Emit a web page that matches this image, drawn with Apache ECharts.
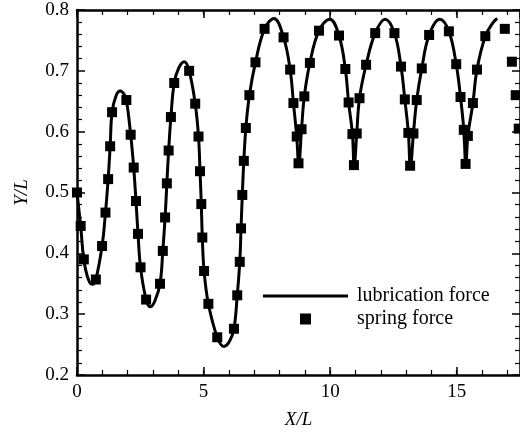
<!DOCTYPE html>
<html>
<head>
<meta charset="utf-8">
<script src="https://cdn.jsdelivr.net/npm/echarts@6/dist/echarts.min.js"></script>
<style>
html,body{margin:0;padding:0;background:#fff;}
#chart{width:520px;height:437px;}
</style>
</head>
<body>
<div id="chart"></div>
<script>
// spring force (square markers), trajectory order
const springX = [0.00,0.145,0.27,0.745,0.99,1.125,1.23,1.31,1.385,1.95,2.12,2.24,2.33,2.41,2.51,2.73,
  3.28,3.39,3.48,3.55,3.62,3.71,3.84,4.43,4.67,4.80,4.86,4.91,4.95,5.02,5.19,5.54,
  6.20,6.33,6.43,6.48,6.53,6.59,6.67,6.81,7.05,7.41,
  8.16,8.42,8.55,8.68,8.75,8.87,8.98,9.20,9.56,
  10.35,10.60,10.73,10.88,10.94,11.05,11.16,11.42,11.78,
  12.54,12.80,12.95,13.09,13.16,13.29,13.42,13.62,13.91,
  14.69,14.98,15.15,15.28,15.35,15.44,15.64,15.80,16.13,
  16.90,17.18,17.33,17.45];
const springY = [0.500,0.445,0.390,0.357,0.412,0.467,0.522,0.576,0.632,0.652,0.595,0.541,0.486,0.432,0.377,0.324,
  0.350,0.404,0.459,0.515,0.569,0.624,0.680,0.700,0.646,0.592,0.535,0.481,0.426,0.371,0.317,0.262,
  0.276,0.331,0.386,0.441,0.496,0.552,0.606,0.660,0.714,0.769,
  0.755,0.702,0.647,0.592,0.548,0.604,0.658,0.713,0.766,
  0.758,0.703,0.648,0.596,0.545,0.597,0.655,0.710,0.762,
  0.762,0.707,0.653,0.598,0.544,0.597,0.652,0.704,0.759,
  0.765,0.711,0.657,0.603,0.547,0.593,0.647,0.702,0.757,
  0.769,0.715,0.660,0.605];

// lubrication force (solid line), trajectory order
const lubX = [0.00,0.145,0.27,0.45,0.62,0.745,0.99,1.125,1.23,1.31,1.385,1.55,1.71,1.85,1.95,2.12,2.24,2.33,2.41,2.51,2.73,2.90,3.08,
  3.28,3.39,3.48,3.55,3.62,3.71,3.84,4.02,4.24,4.43,4.67,4.80,4.86,4.91,4.95,5.02,5.19,5.54,5.80,6.02,
  6.20,6.33,6.43,6.48,6.53,6.59,6.67,6.81,7.05,7.41,7.78,
  8.16,8.42,8.55,8.68,8.76,8.87,8.98,9.20,9.56,9.99,
  10.35,10.60,10.73,10.88,10.95,11.05,11.16,11.42,11.78,12.17,
  12.54,12.80,12.95,13.09,13.17,13.29,13.42,13.62,13.91,14.33,
  14.69,14.98,15.15,15.28,15.36,15.44,15.64,15.80,16.13,16.45,16.60];
const lubY = [0.500,0.445,0.390,0.357,0.349,0.357,0.412,0.467,0.522,0.576,0.632,0.660,0.667,0.662,0.652,0.595,0.541,0.486,0.432,0.377,0.324,0.312,0.322,
  0.350,0.404,0.459,0.515,0.569,0.624,0.680,0.705,0.715,0.700,0.646,0.592,0.535,0.481,0.426,0.371,0.317,0.262,0.247,0.255,
  0.276,0.331,0.386,0.441,0.496,0.552,0.606,0.660,0.714,0.769,0.786,
  0.755,0.702,0.647,0.592,0.545,0.604,0.658,0.713,0.766,0.785,
  0.758,0.703,0.648,0.596,0.542,0.597,0.655,0.710,0.762,0.785,
  0.762,0.707,0.653,0.598,0.541,0.597,0.652,0.704,0.759,0.785,
  0.765,0.711,0.657,0.603,0.544,0.593,0.647,0.702,0.757,0.780,0.786];

const xTicks = [0, 5, 10, 15];
const yTicks = ['0.2','0.3','0.4','0.5','0.6','0.7','0.8'];

const FONT = 'Liberation Serif';
const BLACK = '#000';

const lubData = lubX.map((x, i) => [x, lubY[i]]);
const springData = springX.map((x, i) => [x, springY[i]]);

const axisLineStyle = {show: true, onZero: false, lineStyle: {color: BLACK, width: 2.5}};
const majorTick = {show: true, inside: true, length: 8, lineStyle: {color: BLACK, width: 1.5}};
const minorTickX = {show: true, inside: true, length: 5, lineStyle: {color: BLACK, width: 1.2}};
const labelStyle = {fontFamily: FONT, fontSize: 19, color: BLACK, margin: 8};

function xAxisDef(pos, major) {
  return {
    type: 'value', position: pos, min: 0, max: 17.5,
    interval: major ? 5 : 1,
    axisLine: major ? axisLineStyle : {show: false},
    axisTick: major ? majorTick : minorTickX,
    axisLabel: (major && pos === 'bottom') ? Object.assign({showMaxLabel: false,
      formatter: v => xTicks.indexOf(v) >= 0 ? String(v) : ''}, labelStyle) : {show: false},
    splitLine: {show: false},
    name: (major && pos === 'bottom') ? 'X/L' : '',
    nameLocation: 'middle', nameGap: 35,
    nameTextStyle: {fontFamily: FONT, fontSize: 19, fontStyle: 'italic', color: BLACK}
  };
}
function yAxisDef(pos) {
  return {
    type: 'value', position: pos, min: 0.2, max: 0.8, interval: 0.1,
    axisLine: axisLineStyle,
    axisTick: majorTick,
    minorTick: {show: true, splitNumber: 5, length: 5, lineStyle: {color: BLACK, width: 1.2}},
    axisLabel: pos === 'left' ? Object.assign({formatter: v => {
      const s = v.toFixed(1); return yTicks.indexOf(s) >= 0 ? s : '';
    }}, labelStyle) : {show: false},
    splitLine: {show: false},
    name: pos === 'left' ? 'Y/L' : '',
    nameLocation: 'middle', nameGap: 46,
    nameTextStyle: {fontFamily: FONT, fontSize: 19, fontStyle: 'italic', color: BLACK}
  };
}

const chart = echarts.init(document.getElementById('chart'), null, {renderer: 'canvas'});
chart.setOption({
  animation: false,
  backgroundColor: '#fff',
  grid: {left: 77, right: -4, top: 10, bottom: 62, containLabel: false},
  xAxis: [xAxisDef('bottom', true), xAxisDef('bottom', false), xAxisDef('top', true), xAxisDef('top', false)],
  yAxis: [yAxisDef('left'), yAxisDef('right')],
  legend: [
    {data: [{name: 'lubrication force', icon: 'path://M0 0H85V3.2H0Z'}], left: 263, top: 286, padding: 0,
     itemWidth: 85, itemHeight: 10, selectedMode: false,
     itemStyle: {color: BLACK, opacity: 1},
     textStyle: {fontFamily: FONT, fontSize: 20, color: BLACK, padding: [0, 0, 0, 4]}},
    {data: [{name: 'spring force', icon: 'rect'}], left: 300, top: 309, padding: 0,
     itemWidth: 11, itemHeight: 11, selectedMode: false,
     itemStyle: {color: BLACK, opacity: 1},
     textStyle: {fontFamily: FONT, fontSize: 20, color: BLACK, padding: [0, 0, 0, 41]}}
  ],
  series: [
    {name: 'lubrication force', type: 'line', xAxisIndex: 0, yAxisIndex: 0, data: lubData,
     showSymbol: false, symbol: 'none', smooth: 0.4, lineStyle: {color: BLACK, width: 3},
     itemStyle: {color: BLACK}, z: 2},
    {name: 'spring force', type: 'scatter', xAxisIndex: 0, yAxisIndex: 0, data: springData,
     symbol: 'rect', symbolSize: 10, itemStyle: {color: BLACK, opacity: 1}, z: 3}
  ]
});
</script>
</body>
</html>
